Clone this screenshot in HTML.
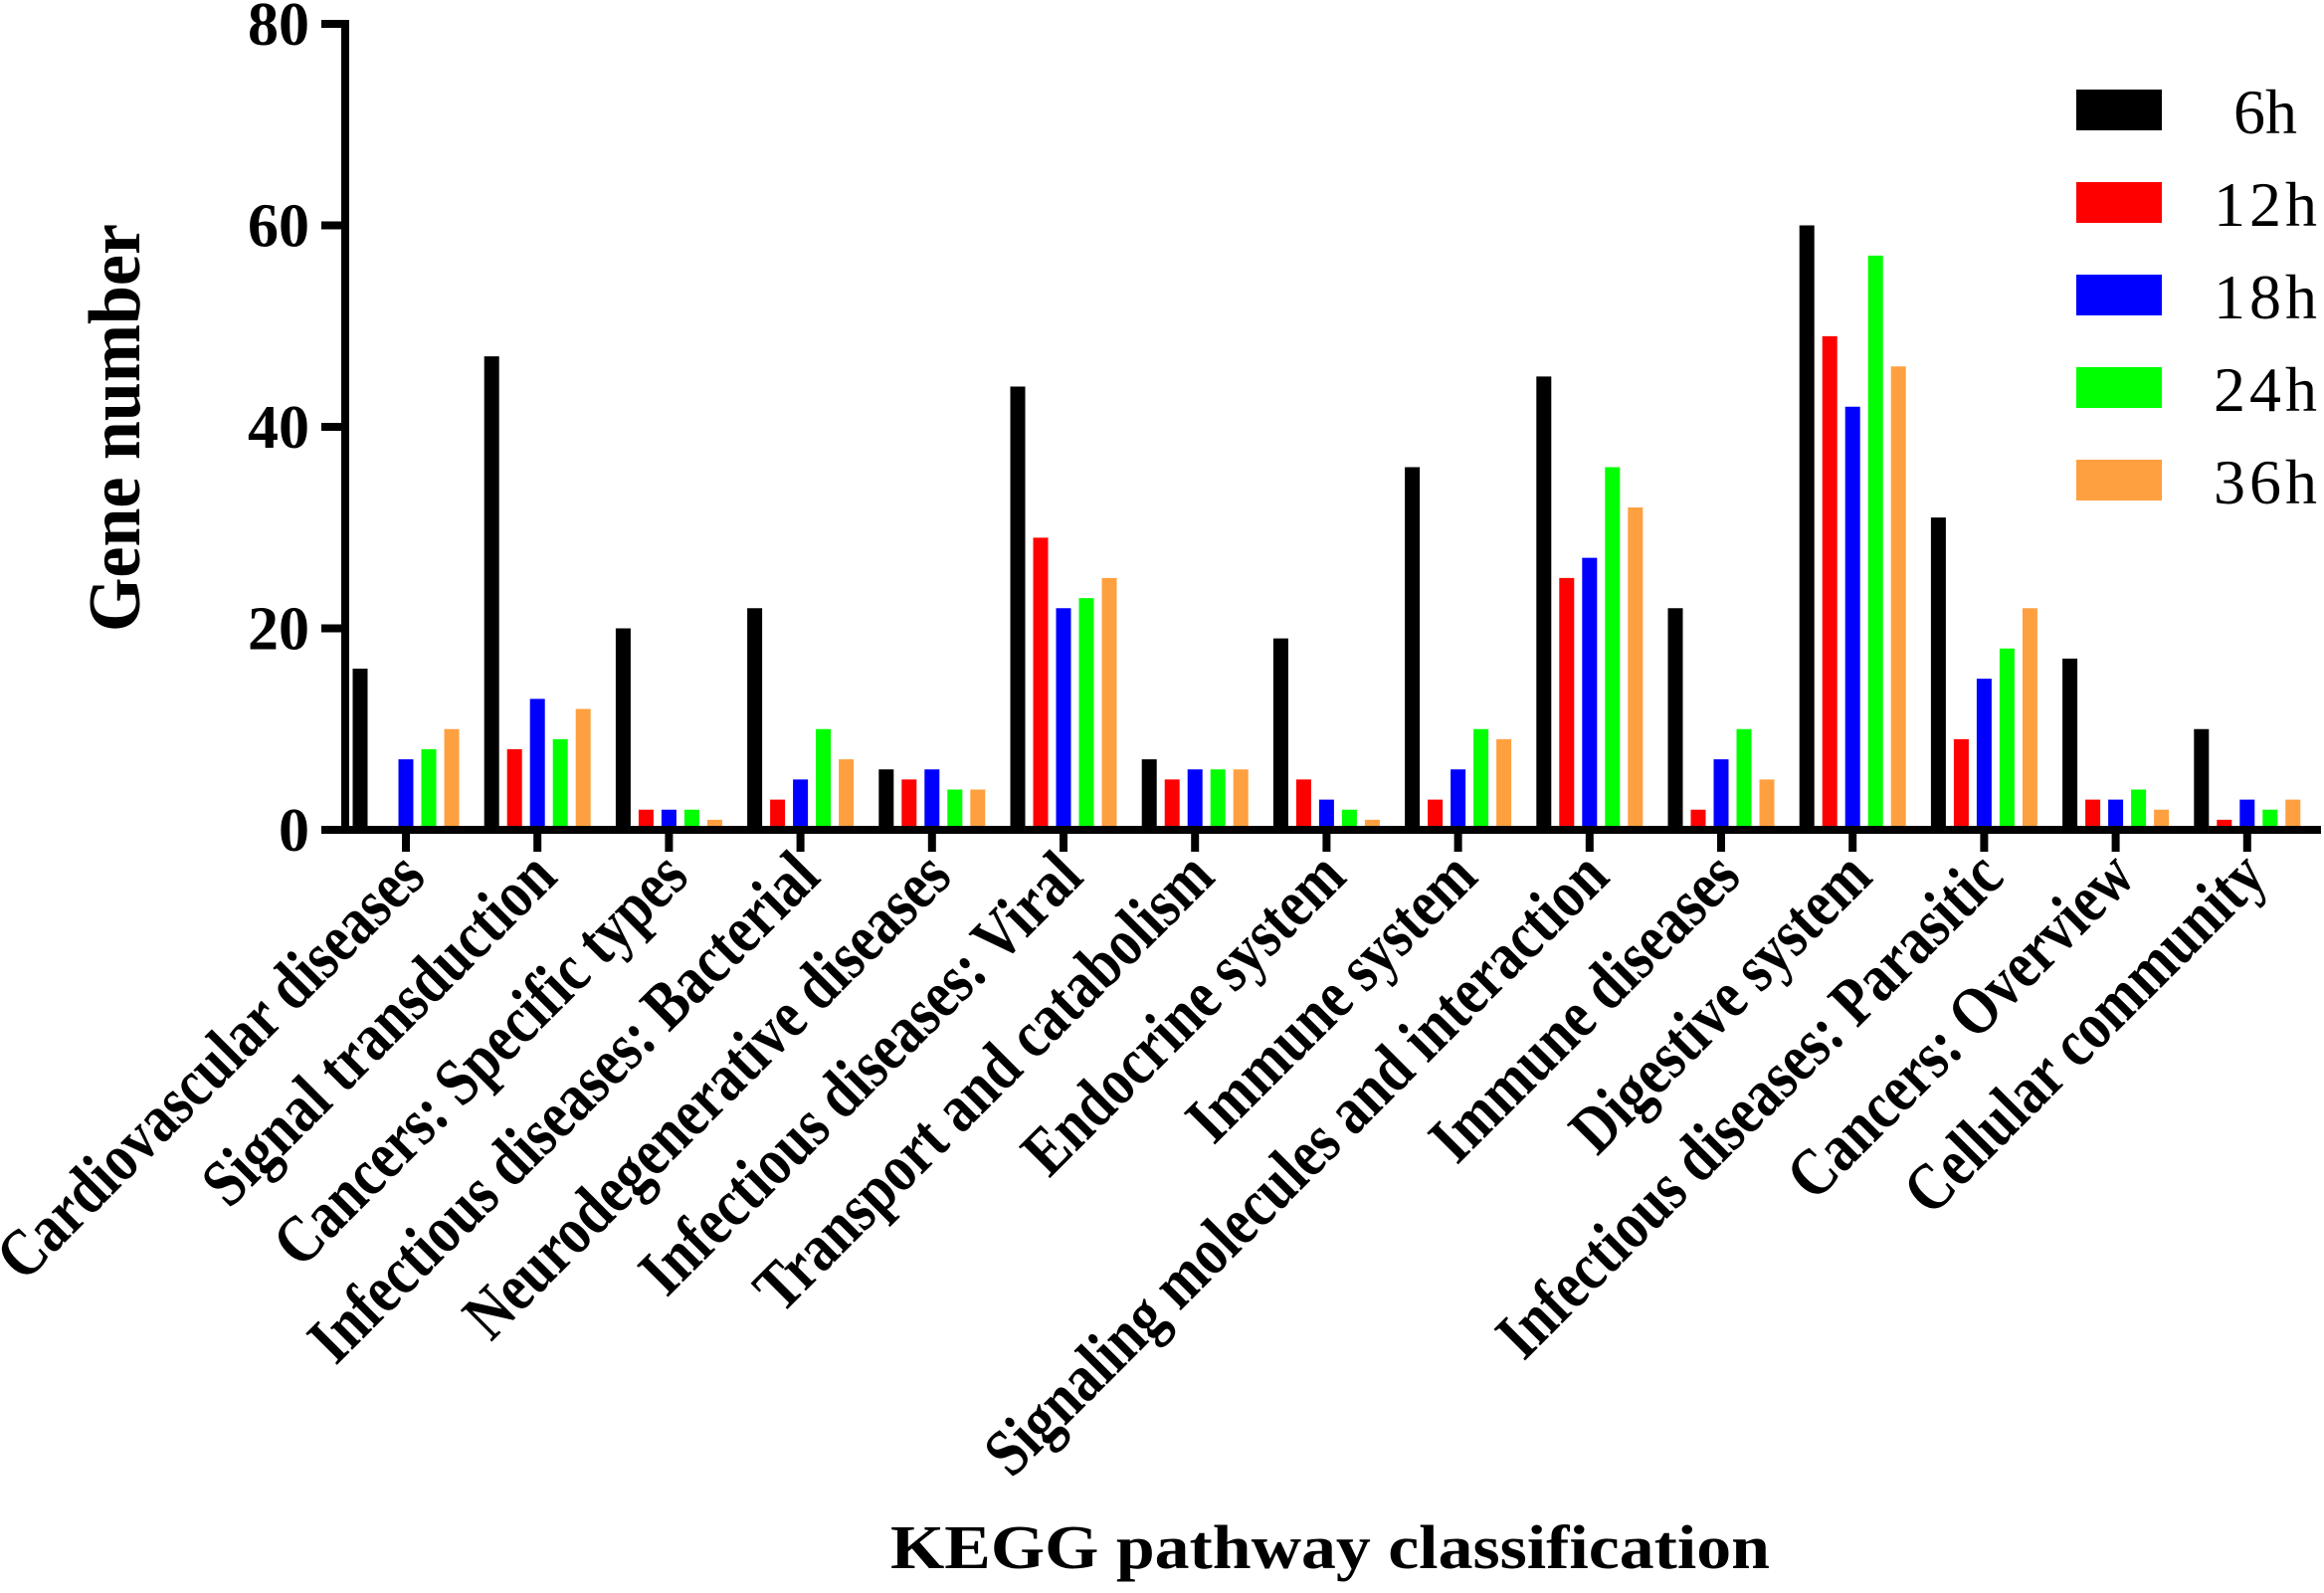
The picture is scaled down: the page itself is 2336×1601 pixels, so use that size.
<!DOCTYPE html>
<html><head><meta charset="utf-8"><style>
html,body{margin:0;padding:0;background:#fff;}
svg{display:block;font-family:"Liberation Serif",serif;}
</style></head><body>
<svg id="chart" width="2336" height="1601" viewBox="0 0 2336 1601" xmlns="http://www.w3.org/2000/svg">
<g id="bars"></g>
<g id="axes"></g>
<g id="legend"></g>
<text x="0" y="0" transform="translate(140,430) rotate(-90)" text-anchor="middle" font-weight="bold" font-size="74" textLength="410" lengthAdjust="spacingAndGlyphs">Gene number</text>
<text x="1337" y="1576" text-anchor="middle" font-weight="bold" font-size="62" textLength="884" lengthAdjust="spacingAndGlyphs">KEGG pathway classification</text>
</svg>
<script>
const categories = ["Cardiovascular diseases","Signal transduction","Cancers: Specific types","Infectious diseases: Bacterial","Neurodegenerative diseases","Infectious diseases: Viral","Transport and catabolism","Endocrine system","Immune system","Signaling molecules and interaction","Immune diseases","Digestive system","Infectious diseases: Parasitic","Cancers: Overview","Cellular community"];
const seriesNames = ["6h","12h","18h","24h","36h"];
const seriesColors = ["#000000","#ff0000","#0000ff","#00ff00","#ffa040"];
const v6h  = [16,47,20,22,6,44,7,19,36,45,22,60,31,17,10];
const v12h = [0,8,2,3,5,29,5,5,3,25,2,49,9,3,1];
const v18h = [7,13,2,5,6,22,6,3,6,27,7,42,15,3,3];
const v24h = [8,9,2,10,4,23,6,2,10,36,10,57,18,4,2];
const v36h = [10,12,1,7,4,25,6,1,9,32,5,46,22,2,3];
const yTicks = [0,20,40,60,80];
const yTickLabels = ["0","20","40","60","80"];

const NS = "http://www.w3.org/2000/svg";
const y0 = 834, yTop = 24, yMax = 80;
const yScale = v => y0 - (v / yMax) * (y0 - yTop);
const xFirst = 408, xStep = 132.2;
const xScale = i => xFirst + i * xStep;
const barW = 15, barPitch = 23;
function mk(tag, attrs, parent){ const e = document.createElementNS(NS, tag); for (const k in attrs) e.setAttribute(k, attrs[k]); parent.appendChild(e); return e; }

const series = [v6h, v12h, v18h, v24h, v36h];
const gb = document.getElementById('bars');
series.forEach((vals, s) => {
  vals.forEach((v, i) => {
    if (v <= 0) return;
    const cx = xScale(i) + (s - 2) * barPitch;
    const r = mk('rect', {x: cx - barW/2, y: yScale(v), width: barW, height: y0 - yScale(v), fill: seriesColors[s]}, gb);
    
    
  });
});

const ga = document.getElementById('axes');
let yl = mk('rect', {x: 343, y: yTop - 4, width: 8, height: y0 - yTop + 8, fill: '#000'}, ga);


let xl = mk('rect', {x: 343, y: y0 - 4, width: 1990, height: 8, fill: '#000'}, ga);


yTicks.forEach((t, k) => {
  const y = yScale(t);
  const tk = mk('rect', {x: 323, y: y - 4, width: 24, height: 8, fill: '#000'}, ga);
  
  
  const tl = mk('text', {x: 311, y: y + 21, 'text-anchor': 'end', 'font-weight': 'bold', 'font-size': 62}, ga);
  tl.textContent = yTickLabels[k];
  
  
});
categories.forEach((c, i) => {
  const x = xScale(i);
  const tk = mk('rect', {x: x - 4, y: y0, width: 8, height: 22, fill: '#000'}, ga);
  
  
  const tl = mk('text', {x: 0, y: 0, transform: 'translate(' + (x + 22) + ',884) rotate(-45)', 'text-anchor': 'end', 'font-weight': 'bold', 'font-size': 55}, ga);
  tl.textContent = c;
  
  
  const len = tl.getComputedTextLength();
  tl.setAttribute('font-size', 68);
  tl.setAttribute('textLength', len * 1.02);
  tl.setAttribute('lengthAdjust', 'spacingAndGlyphs');
});

const gl = document.getElementById('legend');
seriesNames.forEach((n, s) => {
  const y = 90 + s * 93;
  const sw = mk('rect', {x: 2087, y: y, width: 86, height: 41, fill: seriesColors[s]}, gl);
  
  
  const t = mk('text', {x: 2277, y: y + 44, 'text-anchor': 'middle', 'font-size': 64}, gl);
  t.textContent = n;
  
  
  if (n.length === 3) { t.setAttribute('textLength', 104); t.setAttribute('lengthAdjust', 'spacing'); }
});
</script>
</body></html>
